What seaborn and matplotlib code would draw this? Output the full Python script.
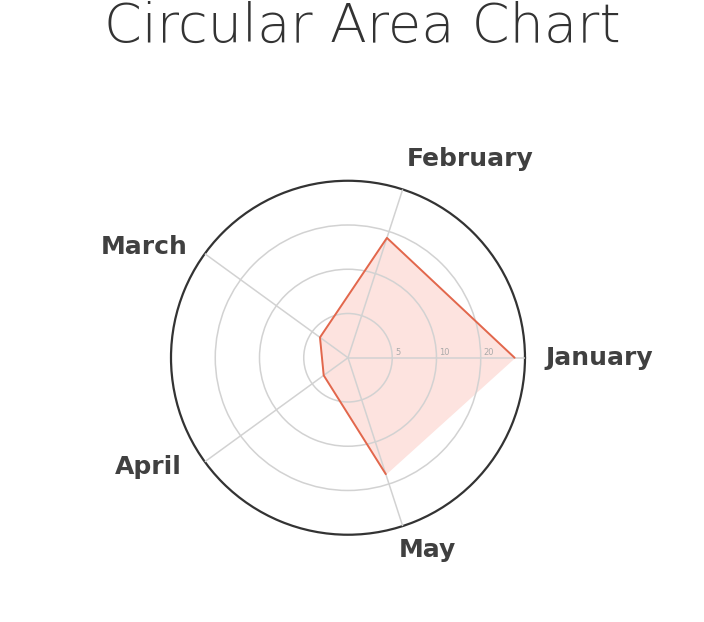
import numpy as np
import pandas as pd
import matplotlib
matplotlib.use("Agg")
import matplotlib.pyplot as plt
from matplotlib.ticker import NullLocator
import seaborn as sns

# donnees (echelle radiale logarithmique)
mois = ["January", "February", "March", "April", "May"]
valeurs = [34, 18, 4.3, 4.0, 17]
ticks_r = [5, 10, 20]
ticks_labels = ["5", "10", "20"]

sns.set_style("white")
plt.rcParams['font.family'] = ['DejaVu Sans']

fig = plt.figure(figsize=(7.04, 6.22), dpi=100)
ax = fig.add_axes([0.2429, 0.1403, 0.5028, 0.5691], projection='polar')

angles = np.deg2rad(np.arange(len(mois)) * 360 / len(mois))
df = pd.DataFrame({"angle": np.append(angles, angles[0]),
                   "valeur": valeurs + [valeurs[0]]})

# echelle log base 2 : 2.5 au centre, 40 au bord
ax.set_rscale('log', base=2)
ax.set_rlim(2.5, 40)

# remplissage sous la grille, contour au dessus
ax.set_axisbelow(False)
ax.fill(df["angle"], df["valeur"], color='#fde3df', zorder=1)
sns.lineplot(data=df, x="angle", y="valeur", sort=False, ax=ax,
             color='#e2674c', linewidth=1.4, zorder=3)

# grille
ax.set_yticks(ticks_r)
ax.set_yticklabels([])
ax.yaxis.set_minor_locator(NullLocator())
ax.set_xticks(angles)
ax.set_xticklabels([])
ax.grid(True, color='#d2d2d2', linewidth=1.1)
ax.spines['polar'].set_color('#333333')
ax.spines['polar'].set_linewidth(1.6)
ax.set_xlabel("")
ax.set_ylabel("")

for r, lab in zip(ticks_r, ticks_labels):
    ax.annotate(lab, xy=(0, r), xytext=(2, 0.5), textcoords='offset points',
                fontsize=6, color='#aaaaaa', ha='left', va='bottom', zorder=4)

rayon = 0.5 * 200 / 177
decalages = [(-3, 0), (-3, 9), (1, -7), (-4, 8), (-11, -2)]
for a, m, d in zip(angles, mois, decalages):
    c = np.cos(a)
    ha = 'left' if c > 0.1 else 'right'
    ax.annotate(m, xy=(0.5 + rayon * np.cos(a), 0.5 + rayon * np.sin(a)),
                xycoords='axes fraction', xytext=d, textcoords='offset pixels',
                ha=ha, va='center', fontsize=18, fontweight='bold',
                color='#404040', annotation_clip=False)

fig.text(0.515, 1 - 42 / 622, "Circular Area Chart", ha='center', va='baseline',
         fontsize=39, fontweight=200, color='#333333')

fig.savefig("out.png", dpi=100)
